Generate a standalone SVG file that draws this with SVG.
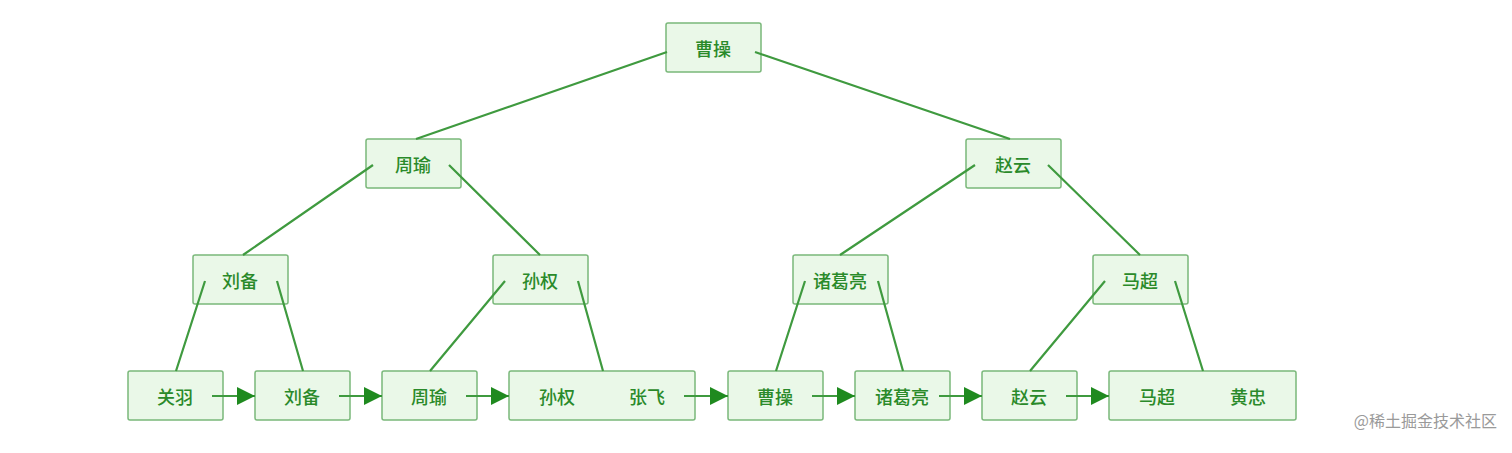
<svg xmlns="http://www.w3.org/2000/svg" width="1512" height="453" viewBox="0 0 1512 453">
<style>
.b{fill:#eaf8e8;stroke:#7ab87a;stroke-width:1.5}
.t{font-family:"Noto Sans CJK SC",sans-serif;font-size:18px;font-weight:500;fill:#2a8a2a;text-anchor:middle;dominant-baseline:central}
.l{stroke:#3f9a3f;stroke-width:2.2;fill:none}
.ar{stroke:#3f9a3f;stroke-width:2.2;fill:none;marker-end:url(#h)}
</style>
<defs>
<marker id="h" viewBox="0 0 10 10" refX="10" refY="5" markerWidth="18" markerHeight="18" markerUnits="userSpaceOnUse" orient="auto"><path d="M0,0L10,5L0,10z" fill="#1f8a1f"/></marker></defs>
<rect width="1512" height="453" fill="#fff"/>
<g id="n1"><rect class="b" x="666" y="23" width="95" height="49" rx="2"/><text class="t" x="713" y="48">曹操</text></g>
<g id="n2"><rect class="b" x="366" y="139" width="95" height="49" rx="2"/><text class="t" x="413" y="164">周瑜</text></g>
<g id="n3"><rect class="b" x="966" y="139" width="95" height="49" rx="2"/><text class="t" x="1013" y="164">赵云</text></g>
<g id="n4"><rect class="b" x="193" y="255" width="95" height="49" rx="2"/><text class="t" x="240" y="280">刘备</text></g>
<g id="n5"><rect class="b" x="493" y="255" width="95" height="49" rx="2"/><text class="t" x="540" y="280">孙权</text></g>
<g id="n6"><rect class="b" x="793" y="255" width="95" height="49" rx="2"/><text class="t" x="840" y="280">诸葛亮</text></g>
<g id="n7"><rect class="b" x="1093" y="255" width="95" height="49" rx="2"/><text class="t" x="1140" y="280">马超</text></g>
<g id="l1"><rect class="b" x="128" y="371" width="95" height="49" rx="2"/><text class="t" x="175" y="396">关羽</text></g>
<g id="l2"><rect class="b" x="255" y="371" width="95" height="49" rx="2"/><text class="t" x="302" y="396">刘备</text></g>
<g id="l3"><rect class="b" x="382" y="371" width="95" height="49" rx="2"/><text class="t" x="429" y="396">周瑜</text></g>
<g id="l4"><rect class="b" x="509" y="371" width="186" height="49" rx="2"/><text class="t" x="557" y="396">孙权</text><text class="t" x="647" y="396">张飞</text></g>
<g id="l5"><rect class="b" x="728" y="371" width="95" height="49" rx="2"/><text class="t" x="775" y="396">曹操</text></g>
<g id="l6"><rect class="b" x="855" y="371" width="95" height="49" rx="2"/><text class="t" x="902" y="396">诸葛亮</text></g>
<g id="l7"><rect class="b" x="982" y="371" width="95" height="49" rx="2"/><text class="t" x="1029" y="396">赵云</text></g>
<g id="l8"><rect class="b" x="1109" y="371" width="187" height="49" rx="2"/><text class="t" x="1157" y="396">马超</text><text class="t" x="1248" y="396">黄忠</text></g>
<g id="connectors">
<path class="l" d="M667,52L416,139M755,52L1010,139M373,165L243,255M449,165L540,255M975,165L840,255M1048,165L1140,255M205,281L176,371M277,281L303,371M505,281L430,371M578,281L603,371M805,281L776,371M878,281L903,371M1105,281L1030,371M1175,281L1203,371"/>
<path class="ar" d="M212,396H255"/>
<path class="ar" d="M339,396H382"/>
<path class="ar" d="M466,396H509"/>
<path class="ar" d="M684,396H728"/>
<path class="ar" d="M812,396H855"/>
<path class="ar" d="M939,396H982"/>
<path class="ar" d="M1066,396H1109"/>
</g>
<text x="1497" y="427" font-family="Noto Sans CJK SC,sans-serif" font-size="16" fill="#9a9a9a" text-anchor="end">@稀土掘金技术社区</text>
</svg>
